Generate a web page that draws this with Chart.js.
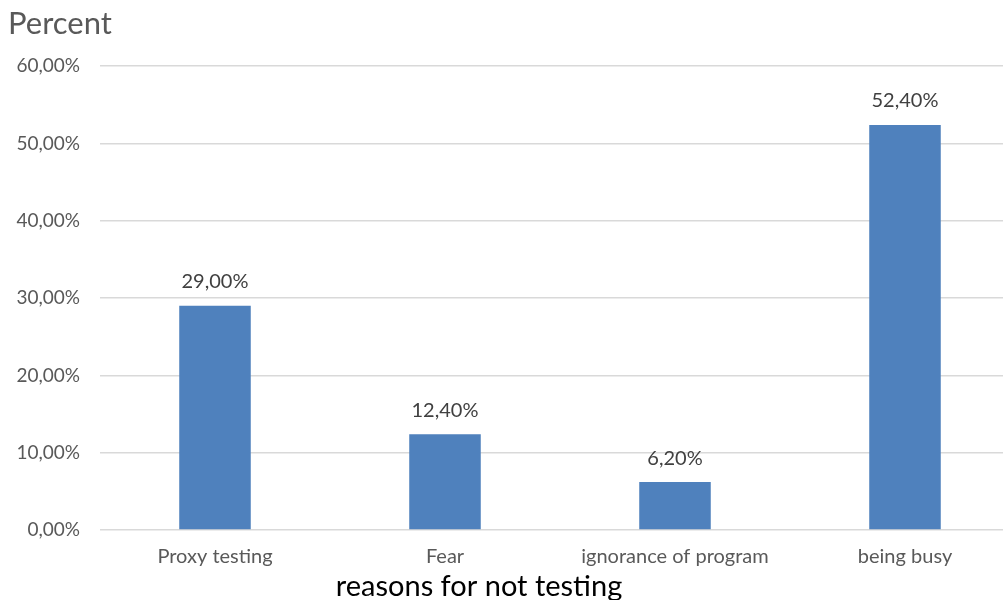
<!DOCTYPE html>
<html>
<head>
<meta charset="utf-8">
<script src="https://cdn.jsdelivr.net/npm/chart.js@4"></script>
<style>
  html, body { margin: 0; padding: 0; background: #fff; overflow: hidden; width: 1003px; height: 600px; }
  #myChart { display: block; }
</style>
</head>
<body>
<canvas id="myChart" width="1020" height="615"></canvas>
<script>
let labels = ['Proxy testing', 'Fear', 'ignorance of program', 'being busy'];
let values = [29.0, 12.4, 6.2, 52.4];
let barColor = '#4F81BD';
let xTitle = 'reasons for not testing';

let fmt = v => v.toFixed(2).replace('.', ',') + '%';

// value labels above each bar + the x axis caption (sits left of centre in the original)
let barLabels = {
  id: 'barLabels',
  afterDatasetsDraw(chart) {
    let ctx = chart.ctx;
    let meta = chart.getDatasetMeta(0);
    ctx.save();
    ctx.font = '20px Lato';
    ctx.fillStyle = '#404040';
    ctx.textAlign = 'center';
    ctx.textBaseline = 'middle';
    meta.data.forEach((bar, i) => {
      ctx.fillText(fmt(values[i]), bar.x, bar.y - 24);
    });
    ctx.font = '29px Lato';
    ctx.fillStyle = '#000';
    ctx.fillText(xTitle, 479, chart.chartArea.bottom + 57);
    ctx.restore();
  }
};

let myChart = new Chart(document.getElementById('myChart'), {
  type: 'bar',
  data: {
    labels: labels,
    datasets: [
      {
        data: values,
        backgroundColor: barColor,
        barPercentage: 0.311,
        categoryPercentage: 1
      }
    ]
  },
  options: {
    responsive: false,
    animation: false,
    layout: { padding: { left: 8, right: 0, top: 0, bottom: 0 } },
    plugins: {
      legend: { display: false },
      tooltip: { enabled: false },
      title: {
        display: true,
        text: 'Percent',
        align: 'start',
        color: '#595959',
        font: { family: 'Lato', size: 31, weight: 'normal' },
        padding: { top: 5, bottom: 24 }
      }
    },
    scales: {
      x: {
        grid: { display: false },
        border: { display: false },
        ticks: { color: '#595959', font: { family: 'Lato', size: 20 }, padding: 7 },
        afterFit: s => { s.height = 85; }
      },
      y: {
        min: 0,
        max: 60,
        ticks: {
          stepSize: 10,
          color: '#595959',
          font: { family: 'Lato', size: 19 },
          padding: 20,
          callback: v => fmt(v)
        },
        grid: { color: '#d9d9d9', drawTicks: false, lineWidth: 1.5 },
        border: { display: false },
        afterFit: s => { s.width = 92; }
      }
    }
  },
  plugins: [barLabels]
});
</script>
</body>
</html>
